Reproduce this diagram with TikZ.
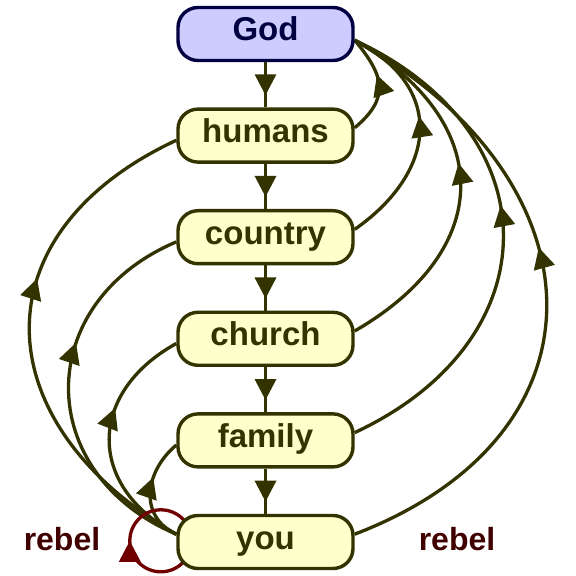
\documentclass[tikz,border=0pt]{standalone}
\usepackage{fontspec}
\setmainfont{Liberation Sans}
\usetikzlibrary{arrows.meta,decorations.markings}
\definecolor{myolive}{RGB}{51,51,0}
\definecolor{myyellow}{RGB}{255,255,204}
\definecolor{mynavy}{RGB}{0,0,64}
\definecolor{mylav}{RGB}{204,204,255}
\definecolor{myred}{RGB}{112,0,0}
\definecolor{mydark}{RGB}{64,0,0}
\pgfdeclarelayer{bg}
\pgfsetlayers{bg,main}
\tikzset{
  box/.style={draw=myolive, fill=myyellow, line width=3.4pt, rounded corners=20pt,
    minimum width=175pt, minimum height=53pt, inner sep=0pt, text=myolive,
    font=\fontsize{33}{33}\selectfont\bfseries, text height=24pt, text depth=10pt},
  godbox/.style={box, draw=mynavy, fill=mylav, text=mynavy},
  conn/.style={draw=myolive, color=myolive, line width=3.3pt},
  midarrow/.style={postaction={decorate}, decoration={markings,
    mark=at position #1 with {\arrow{Triangle[length=21pt,width=21pt]}}}},
  ctrarrow/.style={postaction={decorate}, decoration={markings,
    mark=at position 0.5 with {\arrow[xshift=10.5pt]{Triangle[length=21pt,width=21pt]}}}},
  loopline/.style={draw=myred, color=myred, line width=3.3pt},
  rebeltext/.style={text=mydark, font=\fontsize{32}{32}\selectfont\bfseries, anchor=base, inner sep=0pt},
}
\begin{document}
\begin{tikzpicture}[x=1pt,y=1pt]
\useasboundingbox (0,0) rectangle (576,576);
\node[godbox] (God) at (265.5,542) {God};
\node[box] (humans) at (265.5,440.4) {humans};
\node[box] (country) at (265.5,338.8) {country};
\node[box] (church) at (265.5,237.2) {church};
\node[box] (family) at (265.5,135.6) {family};
\node[box] (you) at (265.5,34) {you};
\coordinate (loopc) at (160.8,35.2);
\node[rebeltext] (rebelL) at (62,25) {rebel};
\node[rebeltext] (rebelR) at (457,25) {rebel};
\begin{pgfonlayer}{bg}
  \draw[conn, ctrarrow] (God) -- (humans);
  \draw[conn, ctrarrow] (humans) -- (country);
  \draw[conn, ctrarrow] (country) -- (church);
  \draw[conn, ctrarrow] (church) -- (family);
  \draw[conn, ctrarrow] (family) -- (you);
  % right curves up to God
  \draw[conn, midarrow=0.6] (humans.5) to[out=40, in=-50, looseness=1.36] (God.-4);
  \draw[conn, midarrow=0.57] (country.5) to[out=35, in=-27, looseness=1.38] (God.-4);
  \draw[conn, midarrow=0.56] (church.5) to[out=30, in=-30, looseness=1.44] (God.-4);
  \draw[conn, midarrow=0.56] (family.5) to[out=25, in=-25, looseness=1.43] (God.-4);
  \draw[conn, midarrow=0.57] (you.5) to[out=21, in=-29, looseness=1.47] (God.-4);
  % left curves from you
  \draw[conn, midarrow=0.61] (you.175) to[out=150, in=205, looseness=1.44] (humans.183);
  \draw[conn, midarrow=0.62] (you.175) to[out=157, in=203, looseness=1.37] (country.183);
  \draw[conn, midarrow=0.63] (you.175) to[out=152, in=209, looseness=1.37] (church.183);
  \draw[conn, midarrow=0.63] (you.175) to[out=155, in=220, looseness=1.2] (family.183);
  % rebel loop
  \draw[loopline, midarrow=0.25] ([yshift=-31pt]loopc) arc[start angle=270, end angle=-90, radius=31];
\end{pgfonlayer}
\end{tikzpicture}
\end{document}
